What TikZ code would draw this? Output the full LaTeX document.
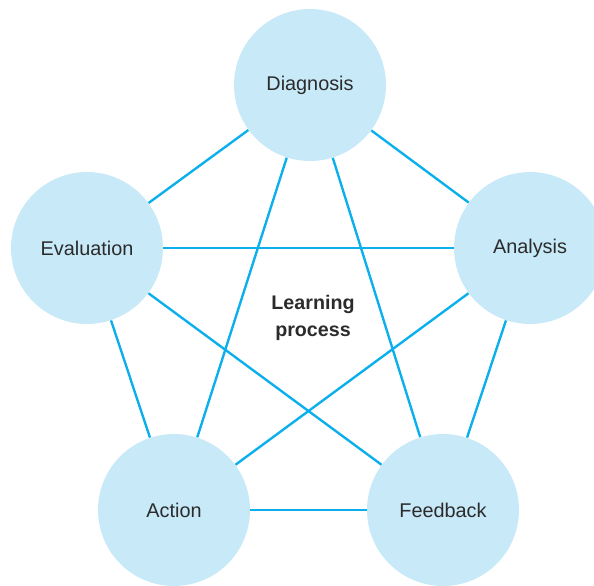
\documentclass[tikz,border=0pt]{standalone}
\usepackage{fontspec}
\setmainfont{Liberation Sans}
\usepackage{tikz}
\definecolor{circfill}{HTML}{C8E9F8}
\definecolor{linkblue}{HTML}{0BAFEC}
\definecolor{txtgray}{HTML}{2B2B2B}
\begin{document}
\begin{tikzpicture}[x=0.02cm,y=-0.02cm,
  main/.style = {circle, fill=circfill, minimum size=3.04cm, inner sep=0pt, text=txtgray, font=\fontsize{11.3}{13}\selectfont},
  link/.style = {draw=linkblue, line width=1.35pt}]
\useasboundingbox (0,0) rectangle (594,585);
\node[main] (diag) at (310,85) {Diagnosis};
\node[main] (eval) at (87,248) {Evaluation};
\node[main] (anal) at (530,248) {Analysis};
\node[main] (act) at (174,510) {Action};
\node[main] (feed) at (443,510) {Feedback};
\draw[link] (diag) -- (eval);
\draw[link] (diag) -- (anal);
\draw[link] (diag) -- (act);
\draw[link] (diag) -- (feed);
\draw[link] (eval) -- (anal);
\draw[link] (eval) -- (act);
\draw[link] (eval) -- (feed);
\draw[link] (anal) -- (act);
\draw[link] (anal) -- (feed);
\draw[link] (act) -- (feed);
\node[align=center, text=txtgray, font=\bfseries\fontsize{11.2}{15}\selectfont] (learn) at (313,318) {Learning\\process};
\end{tikzpicture}
\end{document}
